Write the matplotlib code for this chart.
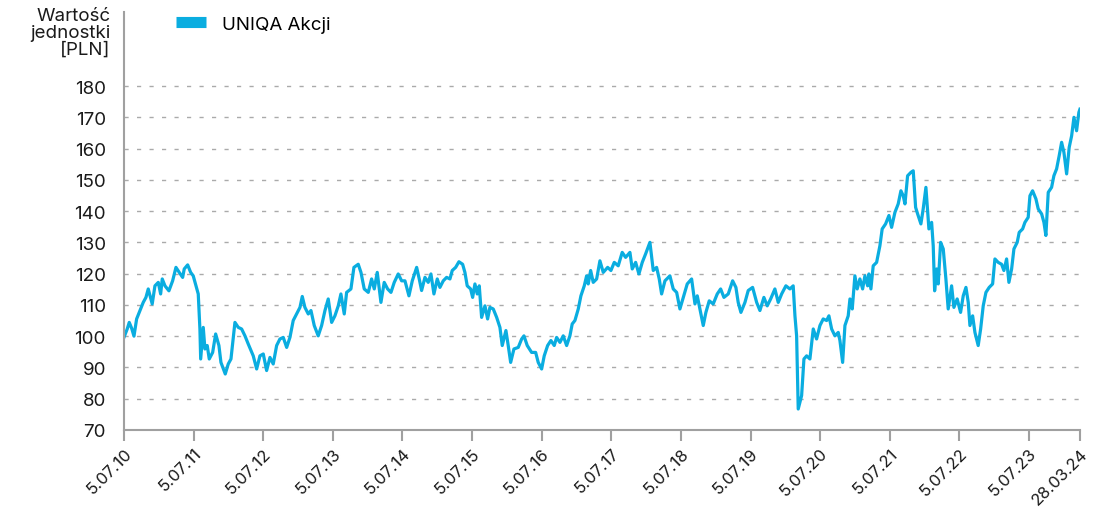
import matplotlib
matplotlib.use("Agg")
import matplotlib.pyplot as plt

# years elapsed since 5.07.2010
t_years = [0.000, 0.047, 0.076, 0.111, 0.144, 0.182, 0.230, 0.277, 0.316, 0.349,
           0.406, 0.445, 0.493, 0.527, 0.550, 0.589, 0.646, 0.699, 0.747, 0.794,
           0.843, 0.866, 0.915, 0.958, 0.995, 1.034, 1.067, 1.091, 1.102, 1.139,
           1.163, 1.196, 1.225, 1.274, 1.317, 1.364, 1.393, 1.455, 1.498, 1.537,
           1.594, 1.642, 1.690, 1.738, 1.785, 1.857, 1.906, 1.953, 2.001, 2.049,
           2.097, 2.144, 2.193, 2.240, 2.288, 2.337, 2.384, 2.431, 2.480, 2.528,
           2.561, 2.599, 2.647, 2.686, 2.733, 2.790, 2.839, 2.887, 2.934, 2.983,
           3.030, 3.078, 3.116, 3.164, 3.198, 3.260, 3.303, 3.365, 3.404, 3.451,
           3.509, 3.557, 3.595, 3.638, 3.691, 3.738, 3.787, 3.835, 3.882, 3.939,
           3.988, 4.036, 4.093, 4.141, 4.204, 4.241, 4.275, 4.323, 4.370, 4.409,
           4.452, 4.500, 4.538, 4.586, 4.634, 4.682, 4.715, 4.764, 4.811, 4.864,
           4.897, 4.930, 4.979, 5.008, 5.041, 5.074, 5.103, 5.137, 5.185, 5.223,
           5.256, 5.304, 5.353, 5.400, 5.433, 5.486, 5.519, 5.554, 5.601, 5.663,
           5.712, 5.745, 5.792, 5.855, 5.913, 5.950, 5.999, 6.036, 6.085, 6.132,
           6.180, 6.214, 6.262, 6.309, 6.358, 6.405, 6.438, 6.477, 6.525, 6.563,
           6.611, 6.645, 6.668, 6.703, 6.740, 6.789, 6.836, 6.884, 6.947, 6.994,
           7.042, 7.099, 7.156, 7.205, 7.267, 7.300, 7.349, 7.396, 7.444, 7.492,
           7.554, 7.602, 7.650, 7.688, 7.722, 7.770, 7.841, 7.889, 7.938, 7.985,
           8.033, 8.090, 8.153, 8.201, 8.234, 8.282, 8.320, 8.358, 8.406, 8.463,
           8.521, 8.570, 8.617, 8.679, 8.742, 8.789, 8.822, 8.861, 8.919, 8.966,
           9.029, 9.087, 9.134, 9.191, 9.239, 9.288, 9.349, 9.397, 9.446, 9.507,
           9.565, 9.612, 9.637, 9.661, 9.684, 9.733, 9.766, 9.805, 9.852, 9.900,
           9.948, 9.996, 10.043, 10.092, 10.125, 10.164, 10.211, 10.259, 10.283, 10.322,
           10.355, 10.402, 10.427, 10.460, 10.498, 10.531, 10.570, 10.609, 10.642, 10.681,
           10.699, 10.728, 10.761, 10.810, 10.857, 10.890, 10.939, 10.987, 11.025, 11.073,
           11.120, 11.159, 11.192, 11.217, 11.255, 11.303, 11.336, 11.370, 11.399, 11.446,
           11.479, 11.518, 11.561, 11.600, 11.623, 11.643, 11.672, 11.695, 11.729, 11.767,
           11.805, 11.838, 11.887, 11.920, 11.967, 12.016, 12.054, 12.093, 12.126, 12.150,
           12.189, 12.222, 12.269, 12.304, 12.341, 12.380, 12.427, 12.476, 12.509, 12.556,
           12.605, 12.638, 12.677, 12.710, 12.749, 12.782, 12.829, 12.858, 12.907, 12.940,
           12.987, 13.012, 13.050, 13.098, 13.131, 13.180, 13.213, 13.241, 13.275, 13.323,
           13.356, 13.395, 13.432, 13.467, 13.500, 13.539, 13.576, 13.611, 13.644, 13.682,
           13.715, 13.730]

uniqa_values = [99.6, 102.3, 104.4, 102.5, 100.0, 105.5, 108.2, 110.8, 112.4, 115.1,
                110.3, 116.1, 117.2, 113.5, 118.3, 116.1, 114.5, 117.7, 122.0, 120.4,
                118.8, 121.5, 122.8, 120.4, 119.3, 116.1, 113.5, 102.3, 92.7, 102.8,
                95.9, 97.0, 92.7, 94.8, 100.7, 97.0, 91.6, 87.9, 91.1, 92.7,
                104.4, 102.8, 102.3, 100.1, 97.5, 93.7, 89.5, 93.7, 94.3, 89.0,
                93.2, 91.1, 97.0, 99.1, 99.6, 96.4, 99.6, 105.0, 107.1, 109.2,
                112.7, 109.2, 107.1, 108.2, 103.4, 100.1, 103.4, 108.2, 111.9, 104.4,
                106.5, 109.7, 113.5, 107.1, 114.0, 115.1, 122.0, 123.0, 120.4, 115.1,
                114.0, 118.3, 115.1, 120.4, 110.8, 117.2, 115.1, 114.0, 117.2, 119.9,
                117.7, 117.7, 112.9, 117.7, 122.0, 118.3, 114.6, 118.8, 117.2, 119.9,
                113.5, 118.3, 115.6, 117.7, 118.8, 118.3, 121.0, 122.0, 123.8, 123.0,
                120.4, 116.1, 115.1, 112.4, 116.7, 113.5, 116.1, 106.0, 109.7, 105.5,
                109.2, 108.7, 106.0, 102.8, 97.0, 101.8, 97.0, 91.6, 95.9, 96.4,
                99.1, 100.1, 97.0, 94.8, 94.8, 91.6, 89.5, 93.7, 97.0, 98.6,
                97.0, 99.6, 98.0, 100.1, 97.0, 100.1, 103.9, 105.0, 108.7, 112.9,
                116.1, 119.3, 116.7, 121.0, 117.2, 118.3, 124.1, 120.4, 122.0, 121.0,
                123.6, 122.5, 126.8, 125.2, 126.8, 121.5, 123.6, 119.9, 123.6, 126.3,
                130.0, 121.0, 122.0, 118.3, 113.5, 117.7, 119.3, 115.1, 114.0, 108.7,
                112.4, 116.7, 118.3, 110.3, 112.9, 107.6, 103.4, 107.6, 111.3, 110.3,
                113.5, 115.1, 112.4, 113.5, 117.7, 115.6, 110.8, 107.6, 110.8, 114.6,
                115.6, 110.8, 108.2, 112.4, 109.7, 111.9, 115.1, 110.8, 113.5, 116.1,
                115.1, 116.1, 106.5, 100.1, 76.7, 81.0, 92.7, 93.7, 92.7, 102.3,
                99.1, 103.4, 105.5, 105.0, 106.5, 102.3, 100.1, 101.2, 98.6, 91.6,
                103.4, 106.5, 111.9, 108.7, 119.3, 115.1, 118.3, 115.1, 119.3, 116.1,
                119.9, 115.1, 122.5, 123.6, 128.9, 134.3, 135.9, 138.6, 134.8, 139.6,
                142.3, 146.5, 144.9, 142.3, 151.3, 152.4, 152.9, 141.2, 139.1, 135.9,
                140.7, 147.6, 134.3, 136.4, 128.9, 114.5, 121.5, 116.7, 130.0, 127.9,
                118.3, 108.7, 116.1, 109.2, 111.9, 107.6, 112.9, 115.6, 110.8, 103.4,
                106.5, 101.2, 97.0, 102.3, 109.7, 114.0, 115.6, 116.7, 124.7, 123.6,
                123.0, 121.0, 124.7, 117.2, 121.5, 127.9, 130.0, 133.2, 134.3, 136.4,
                138.0, 144.9, 146.5, 143.9, 140.7, 139.1, 136.4, 132.2, 146.0, 147.6,
                151.3, 153.5, 157.7, 162.0, 158.8, 151.9, 160.4, 164.1, 170.0, 165.7,
                171.6, 172.6]

x_tick_pos = [0, 1, 2, 3, 4, 5, 6, 7, 8, 9, 10, 11, 12, 13, 13.731]
x_tick_labels = ["5.07.10", "5.07.11", "5.07.12", "5.07.13", "5.07.14", "5.07.15",
                 "5.07.16", "5.07.17", "5.07.18", "5.07.19", "5.07.20", "5.07.21",
                 "5.07.22", "5.07.23", "28.03.24"]
y_ticks = [70, 80, 90, 100, 110, 120, 130, 140, 150, 160, 170, 180]

plt.rcParams['font.family'] = ['Inter', 'DejaVu Sans']

fig = plt.figure(figsize=(10.94, 5.10), dpi=100)
ax = fig.add_axes([0.1133, 0.155, 0.8739, 0.8196])

line_color = "#0AADE0"
ax.plot(t_years, uniqa_values, color=line_color, lw=2.3, solid_joinstyle='round',
        label="UNIQA Akcji")

ax.set_xlim(0, 13.731)
ax.set_ylim(70, 203.7)
ax.set_yticks(y_ticks)
ax.set_xticks(x_tick_pos)
ax.set_xticklabels(x_tick_labels, rotation=45, ha='right', rotation_mode='anchor')

for v in y_ticks[1:]:
    ax.axhline(v, color="#aaaaaa", lw=1.0, ls=(0, (3, 6)), zorder=0)

for s in ['top', 'right']:
    ax.spines[s].set_visible(False)
for s in ['left', 'bottom']:
    ax.spines[s].set_color("#a0a0a0")
    ax.spines[s].set_linewidth(1.5)

ax.tick_params(axis='y', length=0, pad=13, labelsize=13.5, labelcolor="#1a1a1a")
ax.tick_params(axis='x', length=8, width=1.5, color="#a0a0a0", pad=3,
               labelsize=12, labelcolor="#1a1a1a")

fig.text(0.101, 0.985, "Wartość\njednostki\n[PLN]", ha='right', va='top',
         fontsize=13.5, color="#1a1a1a", linespacing=1.0)

leg = ax.legend(loc='upper left', bbox_to_anchor=(0.145, 1.0), bbox_transform=fig.transFigure,
                frameon=False, fontsize=13.5, handlelength=1.6, handletextpad=0.9)
for h in leg.legend_handles:
    h.set_linewidth(8)
    h.set_solid_capstyle('butt')

fig.savefig("out.png", dpi=100)
